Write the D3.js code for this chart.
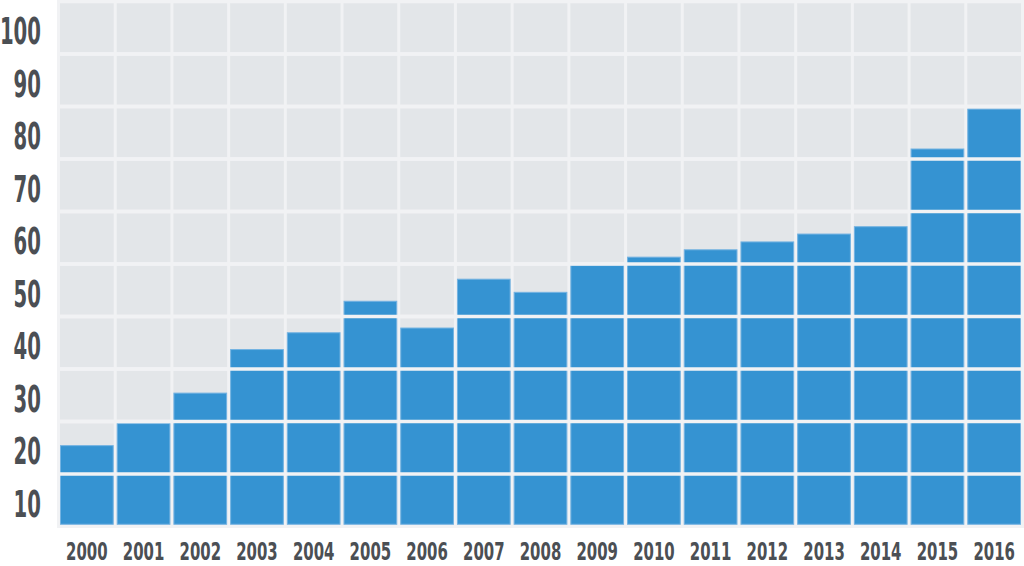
<!DOCTYPE html>
<html>
<head>
<meta charset="utf-8">
<script src="https://cdn.jsdelivr.net/npm/d3@7"></script>
<style>
  html, body { margin: 0; padding: 0; background: #ffffff; }
  svg { display: block; }
  text { font-family: "DejaVu Sans Condensed", "DejaVu Sans", sans-serif; font-weight: bold; fill: #4b4f54; }
</style>
</head>
<body>
<svg id="chart" width="1024" height="566"></svg>
<script>
const years = ["2000","2001","2002","2003","2004","2005","2006","2007","2008","2009","2010","2011","2012","2013","2014","2015","2016"];
const values = [20.5, 24.7, 30.5, 38.8, 42.0, 48.0, 42.9, 52.2, 49.7, 54.8, 56.4, 57.8, 59.3, 60.8, 62.2, 77.0, 84.6];
const yTickLabels = [10, 20, 30, 40, 50, 60, 70, 80, 90, 100];
const gridValues = [5, 15, 25, 35, 45, 55, 65, 75, 85, 95, 105];

const svg = d3.select("#chart");
const plotLeft = 57, plotRight = 1024, plotTop = 0, plotBottom = 528;

const x = d3.scaleBand().domain(years).range([plotLeft, plotRight]).paddingInner(0.053).paddingOuter(0.053);
const y = d3.scaleLinear().domain([5, 105]).range([526.5, 1.5]);

const bg = "#f1f2f4", cell = "#e3e6e9", blue = "#3593d2";
const half = 1.75;

svg.append("rect").attr("x", plotLeft).attr("y", plotTop)
  .attr("width", plotRight - plotLeft).attr("height", plotBottom - plotTop).attr("fill", bg);

const rows = d3.range(gridValues.length - 1).map(i => [gridValues[i], gridValues[i + 1]]);
const cellsG = svg.append("g");
years.forEach(yr => {
  rows.forEach(r => {
    cellsG.append("rect")
      .attr("x", x(yr)).attr("width", x.bandwidth())
      .attr("y", y(r[1]) + half).attr("height", y(r[0]) - y(r[1]) - 2 * half)
      .attr("fill", cell);
  });
});

svg.append("g").selectAll("rect").data(years).join("rect")
  .attr("x", d => x(d) + 0.5)
  .attr("width", x.bandwidth() - 1)
  .attr("y", (d, i) => y(values[i]) + 0.5)
  .attr("height", (d, i) => (y(5) - half) - y(values[i]) - 1)
  .attr("fill", blue)
  .attr("stroke", "#74b3e2")
  .attr("stroke-width", 1);

svg.append("g").selectAll("line").data(gridValues.slice(1, -1)).join("line")
  .attr("x1", plotLeft).attr("x2", plotRight)
  .attr("y1", d => y(d)).attr("y2", d => y(d))
  .attr("stroke", bg).attr("stroke-width", 2 * half);

// y labels (condensed look via vertical stretch)
svg.append("g").selectAll("text").data(yTickLabels).join("text")
  .attr("transform", d => `translate(41,${y(d) + 16.5}) scale(1,1.69)`)
  .attr("text-anchor", "end")
  .attr("font-size", 21.9)
  .text(d => d);

// x labels
svg.append("g").selectAll("text").data(years).join("text")
  .attr("transform", d => `translate(${x(d) + x.bandwidth() / 2},560) scale(1,1.45)`)
  .attr("text-anchor", "middle")
  .attr("font-size", 16.6)
  .text(d => d);
</script>
</body>
</html>
